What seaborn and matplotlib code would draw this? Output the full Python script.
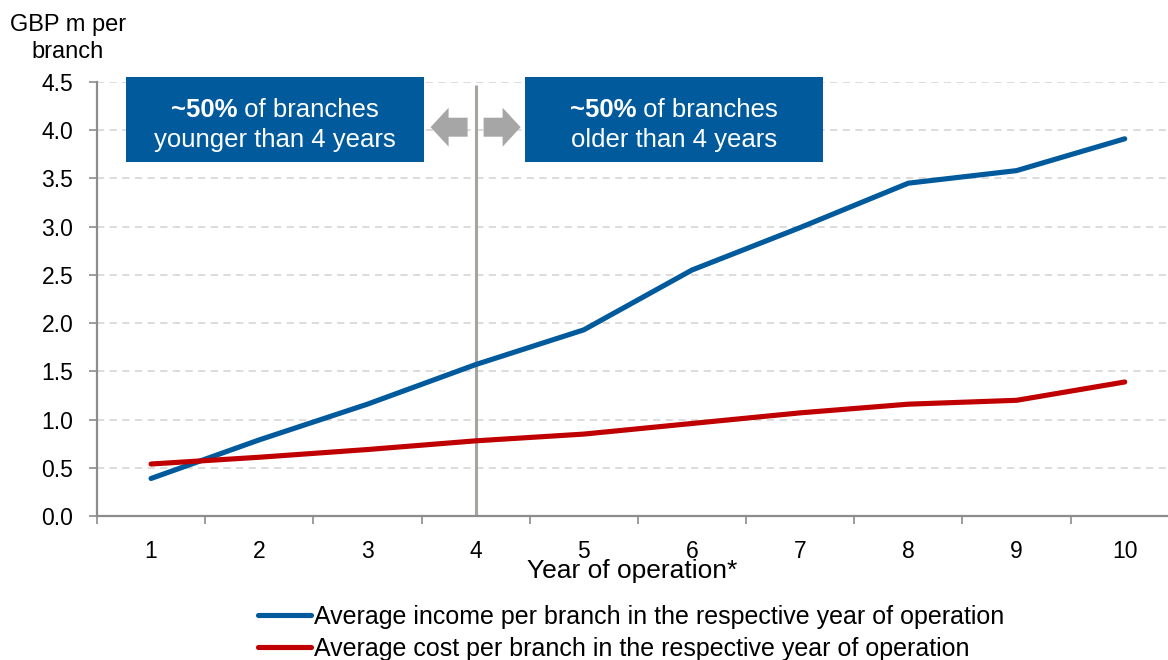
import numpy as np
import pandas as pd
import matplotlib
matplotlib.use("Agg")
import matplotlib.pyplot as plt
import matplotlib.transforms as mtransforms
from matplotlib.patches import Rectangle, Polygon
import seaborn as sns

# ---- data -------------------------------------------------------------
years = [1, 2, 3, 4, 5, 6, 7, 8, 9, 10]
income = [0.39, 0.79, 1.16, 1.57, 1.93, 2.55, 2.99, 3.45, 3.58, 3.91]
cost = [0.54, 0.61, 0.69, 0.78, 0.85, 0.96, 1.07, 1.16, 1.20, 1.39]
series_names = [
    "Average income per branch in the respective year of operation",
    "Average cost per branch in the respective year of operation",
]
y_ticks = [0.0, 0.5, 1.0, 1.5, 2.0, 2.5, 3.0, 3.5, 4.0, 4.5]
y_title = "GBP m per\nbranch"
x_title = "Year of operation*"
box_left = ["~50%", " of branches", "younger than 4 years"]
box_right = ["~50%", " of branches", "older than 4 years"]
split_year = 4

BLUE = "#005A9C"
RED = "#C00000"
GREY = "#8C8C8C"
ARROW = "#A6A6A6"
DIVIDER = "#A5A59E"

sns.set_theme(style="white")
plt.rcParams["font.family"] = ["Liberation Sans", "DejaVu Sans"]
plt.rcParams["text.color"] = "black"
plt.rcParams["axes.labelcolor"] = "black"
plt.rcParams["xtick.color"] = "black"
plt.rcParams["ytick.color"] = "black"

df = pd.DataFrame({
    "year": years * 2,
    "value": income + cost,
    "series": [series_names[0]] * len(years) + [series_names[1]] * len(years),
})

fig = plt.figure(figsize=(11.68, 6.6), dpi=100)
ax = fig.add_axes([0.083, 0.218, 0.917, 0.658])

sns.lineplot(data=df, x="year", y="value", hue="series",
             palette=[BLUE, RED], linewidth=3.7, ax=ax,
             solid_capstyle="round", legend=True, zorder=3)

ax.set_xlim(0.5, 10.4)
ax.set_ylim(0, 4.5)

# y axis
ax.set_yticks(y_ticks)
ax.set_yticklabels([f"{v:.1f}" for v in y_ticks])
ax.tick_params(axis="y", which="major", length=6, width=1.2, color=GREY,
               labelsize=16.5, pad=11, left=True)
for v in y_ticks[1:]:
    ax.axhline(v, color="#D9D9D9", lw=1.3, ls=(0, (4, 3)), zorder=1)

# x axis: labels at category centres, tick marks at category boundaries
ax.set_xticks(years)
ax.set_xticklabels([str(y) for y in years])
ax.set_xticks(np.arange(0.5, 10.5, 1.0), minor=True)
ax.tick_params(axis="x", which="major", length=0, labelsize=16.5, pad=17)
ax.tick_params(axis="x", which="minor", length=6, width=1.2, color=GREY,
               bottom=True)
ax.set_xlabel(x_title, fontsize=19, labelpad=-3)
ax.set_ylabel("")

for side in ["top", "right"]:
    ax.spines[side].set_visible(False)
for side in ["left", "bottom"]:
    ax.spines[side].set_color(GREY)
    ax.spines[side].set_linewidth(1.6)

fig.text(0.058, 0.942, y_title, ha="center", va="center", fontsize=17,
         linespacing=1.3)

# divider at year 4
ax.plot([split_year, split_year], [0, 4.47], color=DIVIDER, lw=2.2, zorder=2,
        solid_capstyle="butt")

# boxes
renderer = fig.canvas.get_renderer()


def rich_line(xc, yc, parts, size):
    texts = [ax.text(xc, yc, s, weight=w, color="white", fontsize=size,
                     ha="left", va="baseline", zorder=6)
             for s, w in parts]
    widths = [t.get_window_extent(renderer).width for t in texts]
    x0 = -sum(widths) / 2
    for t, w in zip(texts, widths):
        t.set_transform(mtransforms.offset_copy(ax.transData, fig=fig,
                                                x=x0, y=0, units="dots"))
        x0 += w


def box(x0, x1, lines):
    y0, y1 = 3.67, 4.55
    ax.add_patch(Rectangle((x0, y0), x1 - x0, y1 - y0, facecolor=BLUE,
                           edgecolor="none", zorder=5, clip_on=False))
    xc = (x0 + x1) / 2
    rich_line(xc, 4.14, [(lines[0], "bold"), (lines[1], "normal")], 18.5)
    rich_line(xc, 3.82, [(lines[2], "normal")], 18.5)


box(0.77, 3.52, box_left)
box(4.46, 7.21, box_right)

# block arrows either side of the divider (shapes in pixels)
anchor = mtransforms.ScaledTranslation(split_year, 4.03, ax.transData)
tr = mtransforms.Affine2D() + anchor


def block_arrow(direction):
    s = direction
    x_base, x_neck, x_tip = 8 * s, 27 * s, 45 * s
    hs, hh = 9.5, 19.5
    verts = [(x_base, -hs), (x_neck, -hs), (x_neck, -hh), (x_tip, 0),
             (x_neck, hh), (x_neck, hs), (x_base, hs)]
    ax.add_patch(Polygon(verts, closed=True, facecolor=ARROW,
                         edgecolor="none", transform=tr, zorder=5,
                         clip_on=False))


block_arrow(-1)
block_arrow(1)

# legend below the plot
handles, labels = ax.get_legend_handles_labels()
leg = ax.legend(handles, labels, loc="upper left",
                bbox_to_anchor=(0.221, 0.084),
                bbox_transform=fig.transFigure, frameon=False, fontsize=18,
                handlelength=2.1, handletextpad=0.15, labelspacing=0.32,
                borderaxespad=0, borderpad=0)
for line in leg.get_lines():
    line.set_linewidth(3.7)
    line.set_solid_capstyle("round")

fig.savefig("out.png", dpi=100)
